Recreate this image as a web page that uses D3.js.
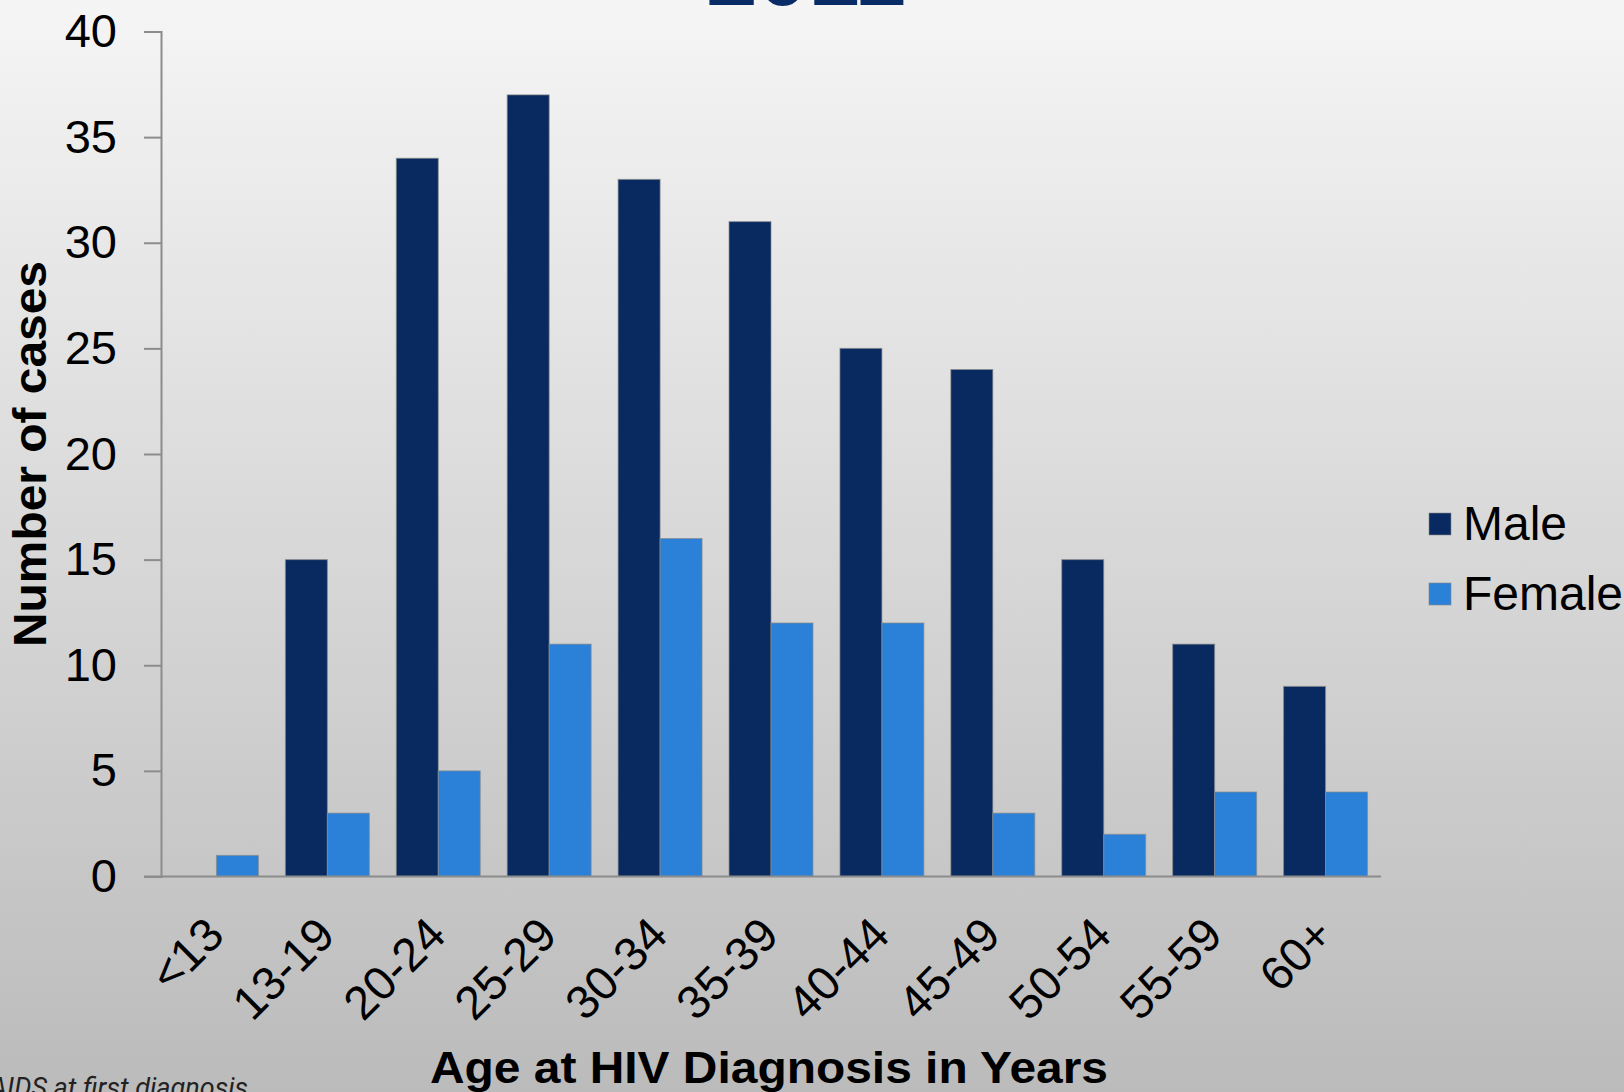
<!DOCTYPE html>
<html>
<head>
<meta charset="utf-8">
<script src="https://cdn.jsdelivr.net/npm/d3@7"></script>
<style>
  html, body { margin: 0; padding: 0; overflow: hidden; }
  svg { display: block; }
</style>
</head>
<body>
<svg id="chart" width="1624" height="1092"></svg>
<script>
// Age groups and case counts
const ageGroups = ["<13", "13-19", "20-24", "25-29", "30-34", "35-39", "40-44", "45-49", "50-54", "55-59", "60+"]
const maleCases = [0, 15, 34, 37, 33, 31, 25, 24, 15, 11, 9]
const femaleCases = [1, 3, 5, 11, 16, 12, 12, 3, 2, 4, 4]
const seriesNames = ["Male", "Female"]
const yTicks = [0, 5, 10, 15, 20, 25, 30, 35, 40]

const colors = d3.scaleOrdinal().domain(seriesNames).range(["#082a60", "#2b80d7"])

var svg = d3.select("#chart")
var width = 1624
var height = 1092

// slide background, light at the top and greyer at the bottom
var grad = svg.append("defs").append("linearGradient")
    .attr("id", "bg").attr("x1", 0).attr("y1", 0).attr("x2", 0).attr("y2", 1)
grad.append("stop").attr("offset", "0%").attr("stop-color", "#f5f5f5")
grad.append("stop").attr("offset", "100%").attr("stop-color", "#bbbbbb")
svg.append("rect").attr("width", width).attr("height", height).attr("fill", "url(#bg)")

// title, mostly cut off by the top edge
svg.append("text")
    .attr("x", 806)
    .attr("y", 5)
    .attr("text-anchor", "middle")
    .attr("font-family", "Liberation Sans, Arial, sans-serif")
    .attr("font-weight", "bold")
    .attr("font-size", 92)
    .attr("fill", "#0a2c66")
    .text("2011")

// plot edges (don't call these top/left, window.top is taken)
var plotLeft = 161, plotRight = 1381, plotTop = 31.5, plotBottom = 876.5

var x0 = d3.scaleBand().domain(ageGroups).range([plotLeft, plotRight])
    .paddingInner(0.243).paddingOuter(0.1215)
var x1 = d3.scaleBand().domain(seriesNames).range([0, x0.bandwidth()])
var y = d3.scaleLinear().domain([0, 40]).range([plotBottom, plotTop])

var rows = ageGroups.map(function(g, i) {
    return {group: g, values: [{key: "Male", value: maleCases[i]}, {key: "Female", value: femaleCases[i]}]}
})

// bars
var groups = svg.append("g").selectAll("g")
    .data(rows)
    .enter()
    .append("g")
    .attr("transform", function(d) { return "translate(" + x0(d.group) + ",0)" })

groups.selectAll("rect")
    .data(function(d) { return d.values.filter(function(v) { return v.value > 0 }) })
    .enter()
    .append("rect")
    .attr("x", function(d) { return x1(d.key) })
    .attr("y", function(d) { return y(d.value) })
    .attr("width", x1.bandwidth())
    .attr("height", function(d) { return y(0) - y(d.value) })
    .attr("fill", function(d) { return colors(d.key) })
    .attr("stroke", "#8a8a8a")
    .attr("stroke-opacity", 0.7)
    .attr("stroke-width", 1)

// y axis
var yAxis = d3.axisLeft(y).tickValues(yTicks).tickSize(17).tickPadding(27)
var yg = svg.append("g").attr("transform", "translate(" + plotLeft + ",0)").call(yAxis)
yg.select(".domain").attr("stroke", "#8c8c8c").attr("stroke-width", 2)
yg.selectAll(".tick line").attr("stroke", "#8c8c8c").attr("stroke-width", 2)
yg.selectAll(".tick text")
    .attr("font-family", "Liberation Sans, Arial, sans-serif")
    .attr("font-size", 47)
    .attr("fill", "#000")

// x axis line (runs left under the tick marks)
var xAxis = d3.axisBottom(x0).tickSize(0).tickPadding(0)
var xg = svg.append("g").attr("transform", "translate(0," + plotBottom + ")").call(xAxis)
xg.select(".domain").attr("d", "M" + (plotLeft - 17) + ",0H" + plotRight)
    .attr("stroke", "#8c8c8c").attr("stroke-width", 2)
xg.selectAll(".tick text")
    .attr("font-family", "Liberation Sans, Arial, sans-serif")
    .attr("font-size", 47)
    .attr("fill", "#000")
    .attr("text-anchor", "end")
    .attr("dy", 0)
    .attr("transform", "translate(10,61) rotate(-45)")

// axis titles
svg.append("text")
    .attr("transform", "translate(46,454) rotate(-90)")
    .attr("text-anchor", "middle")
    .attr("font-family", "Liberation Sans, Arial, sans-serif")
    .attr("font-weight", "bold")
    .attr("font-size", 46)
    .attr("textLength", 386)
    .attr("lengthAdjust", "spacingAndGlyphs")
    .text("Number of cases")

svg.append("text")
    .attr("x", 769)
    .attr("y", 1083)
    .attr("text-anchor", "middle")
    .attr("font-family", "Liberation Sans, Arial, sans-serif")
    .attr("font-weight", "bold")
    .attr("font-size", 44)
    .attr("textLength", 678)
    .attr("lengthAdjust", "spacingAndGlyphs")
    .text("Age at HIV Diagnosis in Years")

// legend
var legend = svg.append("g").selectAll("g")
    .data(seriesNames)
    .enter()
    .append("g")
    .attr("transform", function(d, i) { return "translate(1429," + (513 + i * 70) + ")" })
legend.append("rect")
    .attr("width", 22).attr("height", 22)
    .attr("fill", function(d) { return colors(d) })
    .attr("stroke", "#8a8a8a").attr("stroke-opacity", 0.6)
legend.append("text")
    .attr("x", 34)
    .attr("y", 27)
    .attr("font-family", "Liberation Sans, Arial, sans-serif")
    .attr("font-size", 48)
    .attr("fill", "#000")
    .text(function(d) { return d })

// footnote cut by the bottom-left corner
svg.append("text")
    .attr("x", -10)
    .attr("y", 1097)
    .attr("font-family", "Roboto, sans-serif")
    .attr("font-style", "italic")
    .attr("font-size", 27)
    .attr("fill", "#222")
    .text("AIDS at first diagnosis")
</script>
</body>
</html>
